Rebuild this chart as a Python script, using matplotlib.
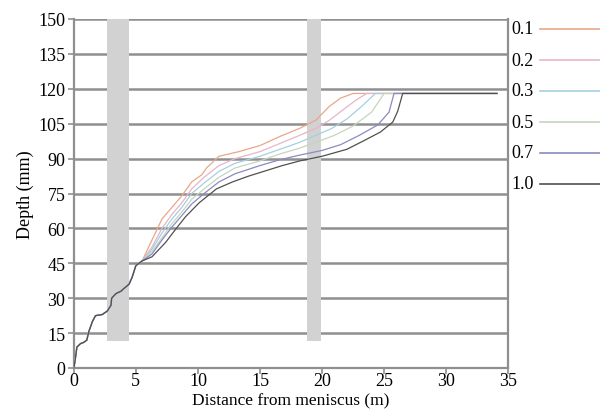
import matplotlib
matplotlib.use("Agg")
import matplotlib.pyplot as plt
from matplotlib.lines import Line2D

plt.rcParams['font.family'] = ['Liberation Serif', 'DejaVu Serif']

# shared initial stepped part (all series coincide)
x_start = [0, 0.1, 0.25, 0.55, 0.8, 1.05, 1.2, 1.5, 1.75, 2.3, 2.7, 3.0, 3.05, 3.4, 3.8, 4.0, 4.45, 4.7, 5.0, 5.5]
y_start = [0, 3, 9, 10.5, 11, 12, 15.5, 20, 22.5, 23, 24.5, 27, 30, 32, 33, 34, 36, 39, 44, 46]

labels = ["0.1", "0.2", "0.3", "0.5", "0.7", "1.0"]
colors = ["#e8a888", "#e6b6c8", "#a6cfe0", "#c4d6bc", "#8a8ac4", "#505050"]

x_01 = [6.3, 7.1, 7.9, 8.7, 9.5, 10.3, 10.7, 11.7, 13.3, 15.0, 16.6, 18.2, 19.5, 20.6, 21.5, 22.5, 34.1]
y_01 = [55, 64, 69, 74, 80, 83, 86, 91, 93, 95.6, 99.5, 103, 106.5, 112.5, 116, 118, 118]

x_02 = [6.3, 7.1, 7.9, 8.7, 9.5, 10.5, 11.7, 13.0, 15.0, 16.6, 18.2, 19.5, 20.6, 21.7, 22.7, 23.6, 34.1]
y_02 = [52, 60, 66, 71, 77, 82, 87, 90, 93, 96.5, 100, 103, 106.5, 111, 115, 118, 118]

x_03 = [6.3, 7.1, 7.9, 8.7, 9.5, 10.5, 11.7, 13.0, 15.0, 16.6, 18.2, 19.5, 20.8, 22.0, 23.2, 24.3, 34.1]
y_03 = [51, 58, 64, 69, 75, 79.5, 84.5, 88, 91, 94, 97, 100, 103, 107, 112.5, 118, 118]

x_05 = [6.3, 7.1, 7.9, 8.7, 9.5, 10.5, 11.7, 13.0, 15.0, 16.6, 18.2, 19.5, 21.0, 22.5, 24.0, 25.0, 34.1]
y_05 = [50, 56, 62, 67, 72.5, 77, 82, 86, 89, 92, 94.5, 97, 100, 104, 110, 118, 118]

x_07 = [6.3, 7.1, 7.9, 8.7, 9.5, 10.5, 11.7, 13.0, 15.0, 16.6, 18.2, 20.0, 21.5, 23.0, 24.5, 25.4, 25.8, 34.1]
y_07 = [49, 55, 60.5, 65.5, 70.5, 75, 80, 83.5, 87, 89.5, 91.5, 93.5, 96, 100, 104.5, 110, 118, 118]

x_10 = [6.3, 7.4, 8.2, 9.0, 10.1, 11.5, 12.8, 14.1, 16.8, 18.2, 20.0, 22.0, 23.3, 24.7, 25.7, 26.1, 26.5, 34.1]
y_10 = [47.8, 54, 59.6, 65, 71, 77, 80, 82.5, 87, 89, 91, 94, 97.5, 101.4, 105.7, 110.4, 118, 118]

bands_x = [(2.67, 4.45), (18.75, 19.9)]
band_y = (11.7, 150)

x_ticks = [0, 5, 10, 15, 20, 25, 30, 35]
y_ticks = [0, 15, 30, 45, 60, 75, 90, 105, 120, 135, 150]

series_x = [x_01, x_02, x_03, x_05, x_07, x_10]
series_y = [y_01, y_02, y_03, y_05, y_07, y_10]

FS = 13

fig = plt.figure(figsize=(6, 4.14), dpi=100)
ax = fig.add_axes([0.123, 1 - 369 / 414, 0.724, (369 - 20) / 414])
ax.set_xlim(0, 35)
ax.set_ylim(0, 150)

for yv in y_ticks[1:]:
    ax.axhline(yv, color="#8f8f8f", lw=1.8, zorder=1)

for x0, x1 in bands_x:
    ax.fill_between([x0, x1], band_y[0], band_y[1], color="#d2d2d2", lw=0, zorder=2)

for xs, ys, c in zip(series_x, series_y, colors):
    ax.plot(x_start + xs, y_start + ys, color=c, lw=0.9, zorder=3)

ax.set_xticks(x_ticks)
ax.set_yticks(y_ticks)
ax.tick_params(axis='both', colors="#8f8f8f", labelcolor="black", labelsize=FS, length=4, width=1.2, direction='out')
ax.tick_params(axis='y', pad=2)
ax.tick_params(axis='x', pad=-1)
for s in ['left', 'bottom', 'right']:
    ax.spines[s].set_color("#8f8f8f")
    ax.spines[s].set_linewidth(1.6)
ax.spines['top'].set_visible(False)

ax.set_ylabel("Depth (mm)", fontsize=FS, labelpad=3)
ax_center = 0.123 + 0.724 / 2
fig.text(ax_center, 1 - 401 / 414, "Distance from meniscus (m)", fontsize=12.5, ha='center', va='center')

# legend (manual, to the right of the plot)
leg_y = [30, 61, 92, 123, 154, 185]
for lab, c, yp in zip(labels, colors, leg_y):
    fy = 1 - yp / 414
    fig.text(511 / 600, fy, lab, fontsize=FS, va='center', ha='left')
    fig.add_artist(Line2D([540 / 600, 1.0], [fy, fy], color=c, lw=1.2, transform=fig.transFigure))

fig.savefig("out.png", dpi=100)
